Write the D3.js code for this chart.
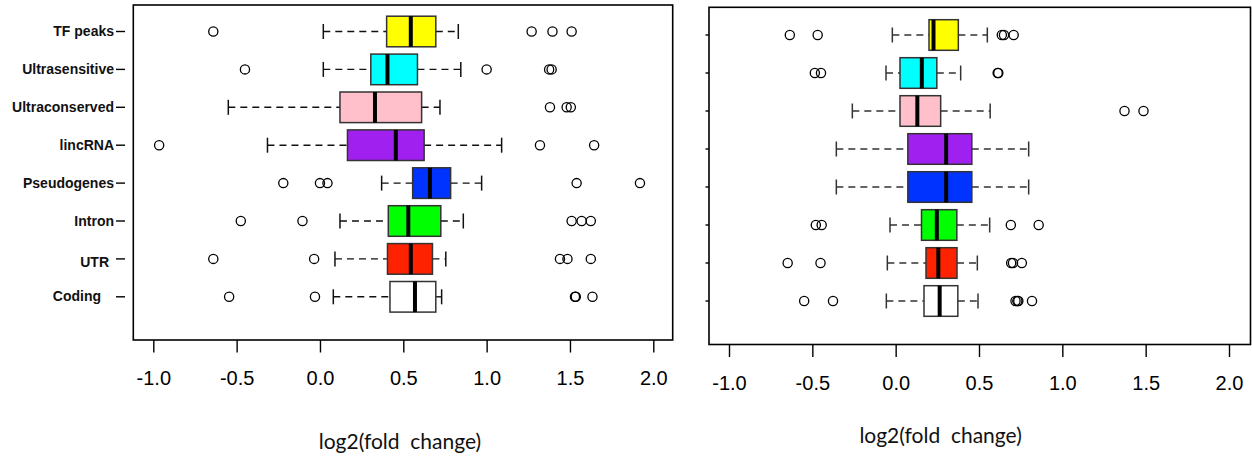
<!DOCTYPE html>
<html>
<head>
<meta charset="utf-8">
<script src="https://cdn.jsdelivr.net/npm/d3@7"></script>
<style>
  body { margin: 0; background: #fff; }
  svg { display: block; }
</style>
</head>
<body>
<div id="chart"></div>
<script>
// categories, top to bottom
var categories = ["TF peaks", "Ultrasensitive", "Ultraconserved", "lincRNA", "Pseudogenes", "Intron", "UTR", "Coding"];
var boxColors = ["#ffff00", "#00ffff", "#ffc0cb", "#a020f0", "#0033ff", "#00ff00", "#ff2200", "#ffffff"];

// [lower whisker, Q1, median, Q3, upper whisker]
var leftStats = [
  [0.02, 0.40, 0.545, 0.695, 0.83],
  [0.02, 0.305, 0.405, 0.585, 0.845],
  [-0.55, 0.12, 0.33, 0.61, 0.72],
  [-0.315, 0.165, 0.455, 0.625, 1.09],
  [0.37, 0.556, 0.66, 0.784, 0.97],
  [0.12, 0.41, 0.53, 0.725, 0.86],
  [0.09, 0.405, 0.545, 0.675, 0.755],
  [0.08, 0.42, 0.57, 0.695, 0.73]
];
var leftOutliers = [
  [-0.64, 1.27, 1.395, 1.51],
  [-0.45, 1.0, 1.375, 1.39],
  [1.38, 1.48, 1.505],
  [-0.965, 1.32, 1.645],
  [-0.22, 0.0, 0.045, 1.54, 1.92],
  [-0.475, -0.105, 1.51, 1.57, 1.625],
  [-0.64, -0.035, 1.44, 1.485, 1.625],
  [-0.545, -0.03, 1.53, 1.535, 1.635]
];

var rightStats = [
  [-0.02, 0.20, 0.227, 0.376, 0.55],
  [-0.058, 0.026, 0.157, 0.247, 0.39],
  [-0.26, 0.026, 0.13, 0.27, 0.567],
  [-0.356, 0.073, 0.303, 0.457, 0.798],
  [-0.356, 0.073, 0.303, 0.457, 0.798],
  [-0.034, 0.155, 0.247, 0.367, 0.564],
  [-0.05, 0.182, 0.256, 0.368, 0.49],
  [-0.056, 0.17, 0.264, 0.373, 0.494]
];
var rightOutliers = [
  [-0.635, -0.468, 0.637, 0.65, 0.708],
  [-0.485, -0.448, 0.612, 0.616],
  [1.373, 1.487],
  [],
  [],
  [-0.479, -0.444, 0.691, 0.858],
  [-0.648, -0.451, 0.693, 0.704, 0.757],
  [-0.549, -0.376, 0.719, 0.73, 0.736, 0.818]
];

var xTicks = [-1.0, -0.5, 0.0, 0.5, 1.0, 1.5, 2.0];
var xTitle = "log2(fold  change)";

var width = 1252, height = 461;

var svg = d3.select("#chart")
  .append("svg")
    .attr("width", width)
    .attr("height", height);

function drawPanel(p) {
  var x = d3.scaleLinear().domain([-1, 2]).range(p.xRange);
  var y = d3.scalePoint().domain(categories).range(p.yRange);
  var g = svg.append("g");
  var halfBox = 15.3, halfCap = 7.5;

  var rows = categories.map(function (c, i) {
    return { cat: c, color: boxColors[i], s: p.stats[i], out: p.outliers[i] };
  });

  var row = g.selectAll(".row")
    .data(rows)
    .enter()
    .append("g")
      .attr("class", "row");

  // whiskers (dashed)
  row.append("line")
    .attr("x1", d => x(d.s[0])).attr("x2", d => x(d.s[1]))
    .attr("y1", d => y(d.cat)).attr("y2", d => y(d.cat))
    .attr("stroke", p.whisker).attr("stroke-width", 1.4)
    .attr("stroke-dasharray", "7,5");
  row.append("line")
    .attr("x1", d => x(d.s[3])).attr("x2", d => x(d.s[4]))
    .attr("y1", d => y(d.cat)).attr("y2", d => y(d.cat))
    .attr("stroke", p.whisker).attr("stroke-width", 1.4)
    .attr("stroke-dasharray", "7,5");

  // staples
  [0, 4].forEach(function (k) {
    row.append("line")
      .attr("x1", d => x(d.s[k])).attr("x2", d => x(d.s[k]))
      .attr("y1", d => y(d.cat) - halfCap).attr("y2", d => y(d.cat) + halfCap)
      .attr("stroke", p.whisker).attr("stroke-width", 1.5);
  });

  // boxes
  row.append("rect")
    .attr("x", d => x(d.s[1]))
    .attr("y", d => y(d.cat) - halfBox)
    .attr("width", d => x(d.s[3]) - x(d.s[1]))
    .attr("height", halfBox * 2)
    .attr("fill", d => d.color)
    .attr("stroke", p.boxStroke)
    .attr("stroke-width", 1.5);

  // medians
  row.append("line")
    .attr("x1", d => x(d.s[2])).attr("x2", d => x(d.s[2]))
    .attr("y1", d => y(d.cat) - halfBox).attr("y2", d => y(d.cat) + halfBox)
    .attr("stroke", "#000").attr("stroke-width", 4);

  // outliers
  row.selectAll("circle")
    .data(d => d.out.map(v => ({ v: v, cat: d.cat })))
    .enter()
    .append("circle")
      .attr("cx", d => x(d.v))
      .attr("cy", d => y(d.cat))
      .attr("r", 4.6)
      .attr("fill", "none")
      .attr("stroke", "#000")
      .attr("stroke-width", 1.3);

  // frame
  g.append("rect")
    .attr("x", p.frame[0]).attr("y", p.frame[1])
    .attr("width", p.frame[2] - p.frame[0])
    .attr("height", p.frame[3] - p.frame[1])
    .attr("fill", "none")
    .attr("stroke", "#000")
    .attr("stroke-width", 1.6);

  // x axis
  var ax = g.append("g")
    .attr("transform", "translate(0," + p.frame[3] + ")")
    .call(d3.axisBottom(x).tickValues(xTicks).tickFormat(d3.format(".1f")).tickSize(12.5));
  ax.select(".domain").remove();
  ax.selectAll(".tick line").attr("stroke", "#000").attr("stroke-width", 1.4);
  ax.selectAll(".tick text")
    .attr("y", p.tickLabelY)
    .attr("dy", null)
    .attr("fill", "#000")
    .style("font-family", "'Liberation Sans', Arial, sans-serif")
    .style("font-size", "20px")
    .text(d => d3.format(".1f")(d).replace("\u2212", "-"));

  // y ticks
  g.selectAll(".ytick")
    .data(categories)
    .enter()
    .append("line")
      .attr("class", "ytick")
      .attr("x1", p.yTick[0]).attr("x2", p.yTick[1])
      .attr("y1", d => y(d)).attr("y2", d => y(d))
      .attr("stroke", "#000").attr("stroke-width", 1.4);

  // x title
  g.append("text")
    .attr("x", p.titlePos[0])
    .attr("y", p.titlePos[1])
    .attr("text-anchor", "middle")
    .style("font-family", "Lato, 'Open Sans', sans-serif")
    .style("font-size", "21px")
    .style("white-space", "pre")
    .attr("fill", "#111")
    .text(xTitle);

  return y;
}

var yLeft = drawPanel({
  stats: leftStats, outliers: leftOutliers,
  xRange: [153.3, 653.3], yRange: [31.5, 296.8],
  frame: [133.3, 5, 672.7, 340],
  whisker: "#111", boxStroke: "#333",
  tickLabelY: 45, yTick: [116, 125],
  titlePos: [400, 449]
});

drawPanel({
  stats: rightStats, outliers: rightOutliers,
  xRange: [729, 1229], yRange: [35, 301],
  frame: [709, 7.3, 1250.5, 344.5],
  whisker: "#333", boxStroke: "#333",
  tickLabelY: 45.5, yTick: [705.5, 709],
  titlePos: [940.6, 443]
});

// category labels on the left panel only
var labelShift = { "UTR": [-5, 4], "Coding": [-13, 0] };
svg.append("g")
  .selectAll("text")
  .data(categories)
  .enter()
  .append("text")
    .attr("x", d => 114 + (labelShift[d] ? labelShift[d][0] : 0))
    .attr("y", d => yLeft(d) + 4.5 + (labelShift[d] ? labelShift[d][1] : 0))
    .attr("text-anchor", "end")
    .style("font-family", "'Liberation Sans', Arial, sans-serif")
    .style("font-weight", "bold")
    .style("font-size", "14px")
    .attr("fill", "#111")
    .text(d => d);
</script>
</body>
</html>
